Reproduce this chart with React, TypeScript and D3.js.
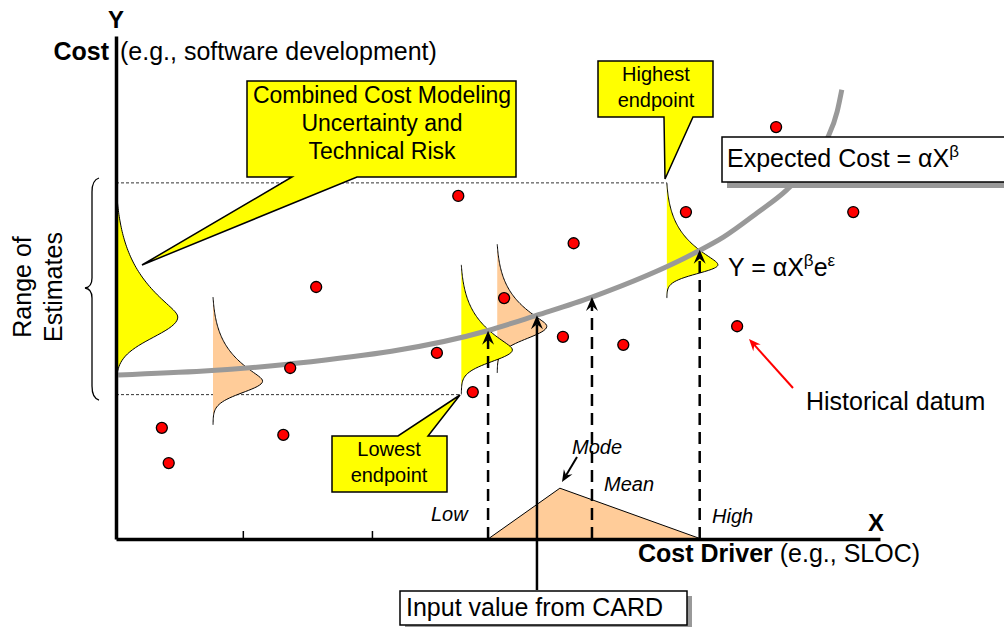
import React, { useRef, useEffect } from 'react';
import * as d3 from 'd3';

// historical data points (cost driver, cost), in 0-100 chart units
const pointX = [44.8, 86.4, 74.6, 96.5, 59.9, 26.2, 50.8, 81.3, 58.5, 66.4, 42.0, 22.8, 46.7, 6.0, 21.9, 6.9];
const pointY = [68.2, 81.9, 65.0, 65.0, 58.8, 50.1, 47.9, 42.3, 40.2, 38.6, 37.0, 34.0, 29.2, 22.1, 20.7, 15.1];

// expected cost curve  Y = aX^b
const curveX = [0.3, 22.8, 48.6, 55.1, 62.3, 75.8, 79.5, 83.9, 87.8, 91.0, 93.1, 94.4, 95.0];
const curveY = [32.6, 34.8, 41.4, 44.5, 48.1, 56.9, 60.0, 64.8, 69.4, 74.6, 79.6, 85.0, 89.3];

// distributions laid along the cost axis (in draw order)
const distBase = [0, 12.7, 49.9, 45.2, 72.1];
const distLow = [28.8, 22.7, 33.0, 28.8, 47.9];
const distMode = [44.1, 31.4, 42.3, 37.6, 54.5];
const distHigh = [70.8, 48.1, 58.6, 54.5, 70.8];
const distWidth = [8.1, 6.5, 6.5, 6.7, 6.7];
const distKind = ['risk', 'model', 'model', 'risk', 'risk'];

// triangular distribution of the cost driver: low, mode, high
const triX = [48.7, 58.1, 76.6];
const triY = [0, 10.1, 0];

// projections from the driver up to the curve: low, mean, high
const projX = [48.7, 62.3, 76.4];
const projY = [41.4, 48.1, 57.5];
const inputX = 55.1;
const inputY = 44.5;

const tickValues = [16.6, 33.5];
const rangeHigh = 70.8;
const rangeLow = 28.7;

const FONT = '"Liberation Sans", Arial, sans-serif';
const YELLOW = '#FFFF00';
const PEACH = '#FFCC99';

function headPoints(x1: number, y1: number, x2: number, y2: number, len = 14, hw = 6, notch = 9) {
  const dx = x2 - x1, dy = y2 - y1;
  const d = Math.hypot(dx, dy);
  const ux = dx / d, uy = dy / d;
  const nx = -uy, ny = ux;
  const head = [
    [x2, y2],
    [x2 - ux * len + nx * hw, y2 - uy * len + ny * hw],
    [x2 - ux * notch, y2 - uy * notch],
    [x2 - ux * len - nx * hw, y2 - uy * len - ny * hw],
  ];
  return { head: 'M' + head.map(p => p.join(',')).join('L') + 'Z', ex: x2 - ux * notch, ey: y2 - uy * notch };
}

function Arrow({ x1, y1, x2, y2, dash, color = '#000', width = 2.5, len = 14, hw = 6, notch = 9 }: any) {
  const a = headPoints(x1, y1, x2, y2, len, hw, notch);
  return (
    <g>
      <line x1={x1} y1={y1} x2={a.ex} y2={a.ey} stroke={color} strokeWidth={width} strokeDasharray={dash} />
      <path d={a.head} fill={color} />
    </g>
  );
}

// skewed density profile: 0 at low, 1 at mode, long tail toward high
function density(v: number, lo: number, mo: number, hi: number) {
  if (v <= mo) {
    const w = (mo - v) / (mo - lo);
    return Math.exp(-(w * w) / (2 * 0.26 * 0.26));
  }
  const u = (v - mo) / (hi - mo);
  const us = Math.sqrt(u * u + 0.0025) - 0.05;
  return Math.max(0, (1 - u * u) * Math.exp(-us / 0.33));
}

export default function App() {
  const xAxisRef = useRef<SVGGElement>(null);
  const yAxisRef = useRef<SVGGElement>(null);

  const x = d3.scaleLinear().domain([0, 100]).range([116, 880]);
  const y = d3.scaleLinear().domain([0, 100]).range([539, 36]);

  useEffect(() => {
    const gx = d3.select(xAxisRef.current);
    gx.call(d3.axisTop(x).tickValues(tickValues).tickSize(8).tickSizeOuter(0).tickFormat(() => '') as any);
    gx.select('.domain').attr('stroke-width', 3.5);
    gx.selectAll('.tick line').attr('stroke-width', 1.5);

    const gy = d3.select(yAxisRef.current);
    gy.call(d3.axisRight(y).tickValues([]).tickSizeOuter(0) as any);
    gy.select('.domain').attr('stroke-width', 3.5);
  }, []);

  const curveLine = d3.line<number>()
    .x((d, i) => x(curveX[i]))
    .y(d => y(d))
    .curve(d3.curveMonotoneX);

  const dists = distBase.map((b, i) => {
    const samples = d3.range(0, 1.0001, 0.01).map(t => distLow[i] + t * (distHigh[i] - distLow[i]));
    const area = d3.area<number>()
      .y(v => y(v))
      .x0(x(b))
      .x1(v => x(b + distWidth[i] * density(v, distLow[i], distMode[i], distHigh[i])))
      .curve(d3.curveBasis);
    const edge = d3.line<number>()
      .y(v => y(v))
      .x(v => x(b + distWidth[i] * density(v, distLow[i], distMode[i], distHigh[i])))
      .curve(d3.curveBasis);
    return { area: area(samples), edge: edge(samples), fill: distKind[i] === 'risk' ? YELLOW : PEACH };
  });

  const tri = d3.line<number>().x((d, i) => x(triX[i])).y(d => y(d));

  return (
    <svg width={1004} height={627} style={{ position: 'absolute', left: 0, top: 0, background: '#fff' }} fontFamily={FONT}>
      {/* range dotted lines */}
      <line x1={x(0)} x2={x(distBase[4])} y1={y(rangeHigh)} y2={y(rangeHigh)} stroke="#333" strokeWidth={1} strokeDasharray="3,2" />
      <line x1={x(0)} x2={x(distBase[3])} y1={y(rangeLow)} y2={y(rangeLow)} stroke="#333" strokeWidth={1} strokeDasharray="3,2" />

      {/* distributions */}
      {dists.map((d, i) => (
        <g key={i}>
          <path d={d.area || ''} fill={d.fill} />
          <path d={d.edge || ''} fill="none" stroke="#000" strokeWidth={1} />
        </g>
      ))}

      {/* expected cost curve */}
      <path d={curveLine(curveY) || ''} fill="none" stroke="#999" strokeWidth={5} />

      {/* triangular driver distribution */}
      <path d={(tri(triY) || '') + 'Z'} fill={PEACH} stroke="#000" strokeWidth={1} />

      {/* axes */}
      <g ref={xAxisRef} transform={`translate(0,${y(0)})`} />
      <g ref={yAxisRef} transform={`translate(${x(0)},0)`} />

      {/* projections */}
      {projX.map((v, i) => (
        <Arrow key={i} x1={x(v)} y1={y(0)} x2={x(v)} y2={y(projY[i])} dash="12,7" />
      ))}
      <Arrow x1={x(inputX)} y1={590} x2={x(inputX)} y2={y(inputY)} />

      {/* historical data */}
      {pointX.map((v, i) => (
        <circle key={i} cx={x(v)} cy={y(pointY[i])} r={5.5} fill="#FF0000" stroke="#000" strokeWidth={1.3} />
      ))}

      {/* axis labels */}
      <text x={116} y={28} fontSize={24} fontWeight="bold" textAnchor="middle">Y</text>
      <text x={876} y={531} fontSize={24} fontWeight="bold" textAnchor="middle">X</text>
      <text x={109} y={60} fontSize={25} fontWeight="bold" textAnchor="end">Cost</text>
      <text x={120} y={60} fontSize={25}>(e.g., software development)</text>
      <text x={638} y={562} fontSize={25}>
        <tspan fontWeight="bold">Cost Driver</tspan> (e.g., SLOC)
      </text>

      {/* range brace */}
      <path d="M99,178 Q92,180 92,192 L92,278 Q92,287 85,288 Q92,289 92,298 L92,386 Q92,398 99,400" fill="none" stroke="#000" strokeWidth={1.3} />
      <text transform="translate(31,287) rotate(-90)" fontSize={25} textAnchor="middle">
        <tspan x={0} dy={0}>Range of</tspan>
        <tspan x={0} dy={31}>Estimates</tspan>
      </text>

      {/* callouts */}
      <path d="M247,81 H516 V177 H357 L142,265 L292,177 H247 Z" fill={YELLOW} stroke="#000" strokeWidth={1.5} />
      <text fontSize={23} textAnchor="middle">
        <tspan x={382} y={103}>Combined Cost Modeling</tspan>
        <tspan x={382} y={131}>Uncertainty and</tspan>
        <tspan x={382} y={159}>Technical Risk</tspan>
      </text>

      <path d="M598,61 H713 V117 H693 L665,179 L664,117 H598 Z" fill={YELLOW} stroke="#000" strokeWidth={1.5} />
      <text fontSize={20} textAnchor="middle">
        <tspan x={656} y={81}>Highest</tspan>
        <tspan x={656} y={107}>endpoint</tspan>
      </text>

      <path d="M332,436 H398 L460,395 L428,436 H447 V492 H332 Z" fill={YELLOW} stroke="#000" strokeWidth={1.5} />
      <text fontSize={20} textAnchor="middle">
        <tspan x={389} y={456}>Lowest</tspan>
        <tspan x={389} y={482}>endpoint</tspan>
      </text>

      {/* expected cost box */}
      <rect x={727} y={142} width={290} height={46} fill="#999" />
      <rect x={722} y={137} width={290} height={45} fill="#fff" stroke="#000" strokeWidth={1.5} />
      <text x={727} y={167} fontSize={25}>
        Expected Cost = αX<tspan dy={-10} fontSize={17}>β</tspan>
      </text>

      <text x={728} y={276} fontSize={25}>
        Y = αX<tspan dy={-10} fontSize={17}>β</tspan><tspan dy={10} fontSize={25}>e</tspan><tspan dy={-10} fontSize={17}>ε</tspan>
      </text>

      {/* historical datum */}
      <Arrow x1={793} y1={388} x2={749} y2={339} color="#FF0000" width={2} len={12} hw={5} notch={8} />
      <text x={806} y={410} fontSize={25}>Historical datum</text>

      {/* driver labels */}
      <text x={431} y={521} fontSize={20} fontStyle="italic">Low</text>
      <text x={572} y={454} fontSize={20} fontStyle="italic">Mode</text>
      <text x={604} y={491} fontSize={20} fontStyle="italic">Mean</text>
      <text x={712} y={523} fontSize={20} fontStyle="italic">High</text>
      <Arrow x1={577} y1={457} x2={562} y2={482} width={2} len={12} hw={5} notch={8} />

      {/* input box */}
      <rect x={405} y={596} width={287} height={36} fill="#999" />
      <rect x={400} y={591} width={287} height={34} fill="#fff" stroke="#000" strokeWidth={1.5} />
      <text x={406} y={616} fontSize={25}>Input value from CARD</text>
    </svg>
  );
}
